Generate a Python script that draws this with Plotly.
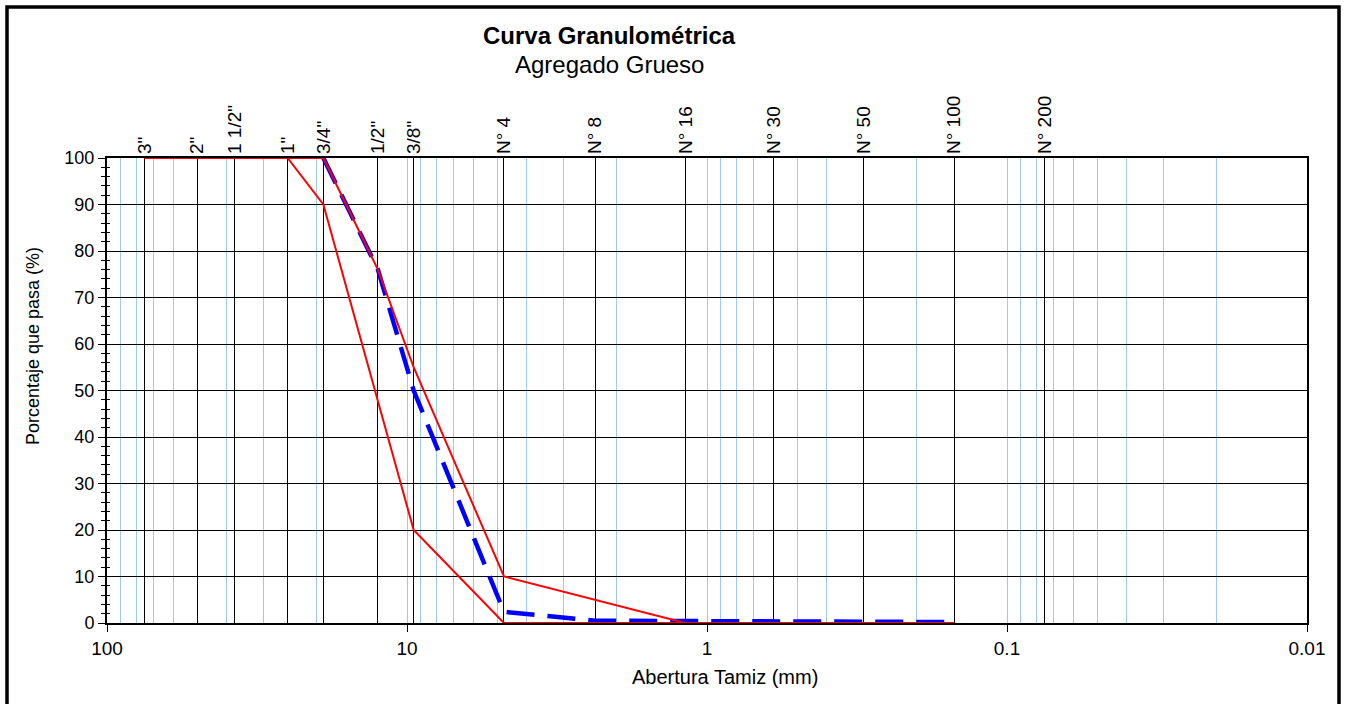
import plotly.graph_objects as go

# ---------------- data ----------------
sieve_labels = ['3"', '2"', '1 1/2"', '1"', '3/4"', '1/2"', '3/8"',
                'N° 4', 'N° 8', 'N° 16', 'N° 30', 'N° 50', 'N° 100', 'N° 200']
sieve_mm = [75, 50, 37.5, 25, 19, 12.5, 9.5, 4.75, 2.36, 1.18, 0.6, 0.3, 0.15, 0.075]

# limits (lower / upper) from 3" to N°100
limit_mm = [75, 50, 37.5, 25, 19, 12.5, 9.5, 4.75, 2.36, 1.18, 0.6, 0.3, 0.15]
lower_limit = [100, 100, 100, 100, 90, 48, 20, 0, 0, 0, 0, 0, 0]
upper_limit = [100, 100, 100, 100, 100, 76, 55, 10, 5, 0, 0, 0, 0]

# sample gradation from 3/4" to N°100
sample_mm = [19, 12.5, 9.5, 4.75, 2.36, 1.18, 0.6, 0.3, 0.15]
sample_pass = [100, 76, 50, 2.4, 0.5, 0.4, 0.4, 0.4, 0.2]

x_major_ticks = [100, 10, 1, 0.1, 0.01]
x_major_text = ['100', '10', '1', '0.1', '0.01']

# ---------------- figure ----------------
W, H = 1345, 704
L, R, T, B = 107, 1307, 158, 623
FONT = "Arial, Liberation Sans, sans-serif"


def px_x(p):
    return (p - L) / (R - L)


def px_y(p):
    return (B - p) / (B - T)


fig = go.Figure()

# sample curve on the main (bottom) axis
fig.add_trace(go.Scatter(x=sample_mm, y=sample_pass, mode='lines',
                         line=dict(color='#0000ff', width=4.5, dash='28px,13px'),
                         xaxis='x', yaxis='y', showlegend=False, hoverinfo='skip'))
# limits on the sieve (top) axis
fig.add_trace(go.Scatter(x=limit_mm, y=lower_limit, mode='lines',
                         line=dict(color='#ff0000', width=2),
                         xaxis='x2', yaxis='y', showlegend=False, hoverinfo='skip'))
fig.add_trace(go.Scatter(x=limit_mm, y=upper_limit, mode='lines',
                         line=dict(color='#ff0000', width=2),
                         xaxis='x2', yaxis='y', showlegend=False, hoverinfo='skip'))
# empty trace so the inside-tick helper axis is drawn
fig.add_trace(go.Scatter(x=[], y=[], xaxis='x', yaxis='y2',
                         showlegend=False, hoverinfo='skip'))

fig.update_layout(
    width=W, height=H,
    margin=dict(l=L, r=W - R, t=T, b=H - B, pad=0),
    paper_bgcolor='white', plot_bgcolor='white',
    font=dict(family=FONT, color='black', size=18),
    showlegend=False,
    xaxis=dict(
        type='log', range=[2, -2], side='bottom', anchor='y',
        tickmode='array', tickvals=x_major_ticks, ticktext=x_major_text,
        ticks='outside', ticklen=7, tickwidth=1, tickcolor='black',
        tickfont=dict(size=19),
        showgrid=True, gridcolor='#9ccaf6', gridwidth=1,
        minor=dict(dtick='D1', showgrid=True,
                   gridcolor='#9ccaf6', gridwidth=1, ticks=''),
        showline=True, linecolor='black', linewidth=2, mirror=True,
        zeroline=False,
    ),
    xaxis2=dict(
        type='log', range=[2, -2], side='top', overlaying='x', anchor='y',
        tickmode='array', tickvals=sieve_mm, ticktext=sieve_labels,
        tickangle=-90, ticks='', tickfont=dict(size=19),
        ticklabelstandoff=3,
        showgrid=True, gridcolor='black', gridwidth=1,
        showline=False, zeroline=False,
    ),
    yaxis=dict(
        range=[0, 100], tickmode='linear', tick0=0, dtick=10,
        ticks='outside', ticklen=7, tickwidth=1, tickcolor='black',
        tickfont=dict(size=18),
        minor=dict(dtick=2, ticks='outside', ticklen=4, tickcolor='black',
                   showgrid=False),
        showgrid=True, gridcolor='black', gridwidth=1,
        showline=True, linecolor='black', linewidth=2, mirror=True,
        zeroline=False,
    ),
    yaxis2=dict(
        range=[0, 100], overlaying='y', side='left', anchor='x',
        tickmode='linear', tick0=0, dtick=10,
        ticks='inside', ticklen=4, tickwidth=1, tickcolor='black',
        showticklabels=False,
        minor=dict(dtick=2, ticks='inside', ticklen=3, tickcolor='black',
                   showgrid=False),
        showgrid=False, showline=False, zeroline=False,
    ),
    annotations=[
        dict(text='<b>Curva Granulométrica</b>', x=px_x(609), y=px_y(35),
             xref='paper', yref='paper', showarrow=False,
             xanchor='center', yanchor='middle', font=dict(size=24)),
        dict(text='Agregado Grueso', x=px_x(609), y=px_y(64),
             xref='paper', yref='paper', showarrow=False,
             xanchor='center', yanchor='middle', font=dict(size=24)),
        dict(text='Porcentaje que pasa (%)', x=px_x(33), y=px_y(346),
             xref='paper', yref='paper', showarrow=False, textangle=-90,
             xanchor='center', yanchor='middle', font=dict(size=18)),
        dict(text='Abertura Tamiz (mm)', x=px_x(725), y=px_y(677),
             xref='paper', yref='paper', showarrow=False,
             xanchor='center', yanchor='middle', font=dict(size=20)),
    ],
    shapes=[
        dict(type='rect', xref='paper', yref='paper',
             x0=px_x(7), x1=px_x(1339), y0=px_y(712), y1=px_y(7),
             line=dict(color='black', width=3.5), fillcolor='rgba(0,0,0,0)',
             layer='above'),
    ],
)

fig.write_html("out.html")
